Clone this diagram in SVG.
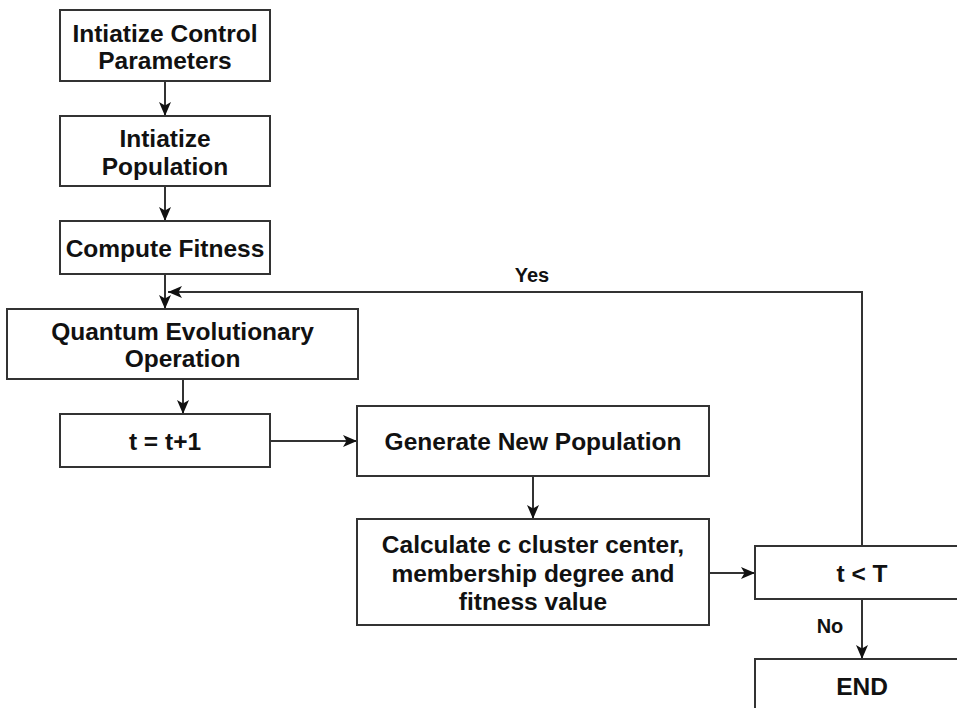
<svg xmlns="http://www.w3.org/2000/svg" width="957" height="708" viewBox="0 0 957 708">
<defs>
<marker id="arr" viewBox="0 0 14 12" refX="14" refY="6" markerWidth="14" markerHeight="12" markerUnits="userSpaceOnUse" orient="auto">
<path d="M0,0 L14,6 L0,12 L3.5,6 Z" fill="#111"/>
</marker>
</defs>
<style>
.box{fill:#fff;stroke:#333;stroke-width:2}
.t{font-family:"Liberation Sans",Arial,sans-serif;font-weight:bold;font-size:24.5px;fill:#111;text-anchor:middle}
.s{font-family:"Liberation Sans",Arial,sans-serif;font-weight:bold;font-size:20px;fill:#111;text-anchor:middle}
.c{fill:none;stroke:#333;stroke-width:2;marker-end:url(#arr)}
</style>
<rect width="957" height="708" fill="#fff"/>
<g id="connectors">
<path class="c" d="M165,81 V116"/>
<path class="c" d="M165,186 V221"/>
<path class="c" d="M165,274 V309"/>
<path class="c" d="M862,546 V292 H168"/>
<path class="c" d="M183,379 V414"/>
<path class="c" d="M270,441 H357"/>
<path class="c" d="M533,476 V519"/>
<path class="c" d="M709,573 H755"/>
<path class="c" d="M862,599 V659"/>
<text class="s" x="532" y="282">Yes</text>
<text class="s" x="830" y="633">No</text>
</g>
<g id="init-params">
<rect class="box" x="60" y="10" width="210" height="71"/>
<text class="t" x="165" y="42">Intiatize Control</text>
<text class="t" x="165" y="69">Parameters</text>
</g>
<g id="init-pop">
<rect class="box" x="60" y="116" width="210" height="70"/>
<text class="t" x="165" y="147">Intiatize</text>
<text class="t" x="165" y="175">Population</text>
</g>
<g id="fitness">
<rect class="box" x="60" y="221" width="210" height="53"/>
<text class="t" x="165" y="257">Compute Fitness</text>
</g>
<g id="quantum">
<rect class="box" x="7" y="309" width="351" height="70"/>
<text class="t" x="182.5" y="340">Quantum Evolutionary</text>
<text class="t" x="182.5" y="367">Operation</text>
</g>
<g id="increment">
<rect class="box" x="60" y="414" width="210" height="53"/>
<text class="t" x="165" y="450">t = t+1</text>
</g>
<g id="generate">
<rect class="box" x="357" y="406" width="352" height="70"/>
<text class="t" x="533" y="450">Generate New Population</text>
</g>
<g id="calculate">
<rect class="box" x="357" y="519" width="352" height="106"/>
<text class="t" x="533" y="553">Calculate c cluster center,</text>
<text class="t" x="533" y="582">membership degree and</text>
<text class="t" x="533" y="610">fitness value</text>
</g>
<g id="condition">
<rect class="box" x="755" y="546" width="214" height="53"/>
<text class="t" x="862" y="582">t &lt; T</text>
</g>
<g id="end">
<rect class="box" x="755" y="659" width="214" height="60"/>
<text class="t" x="862" y="695">END</text>
</g>
</svg>
